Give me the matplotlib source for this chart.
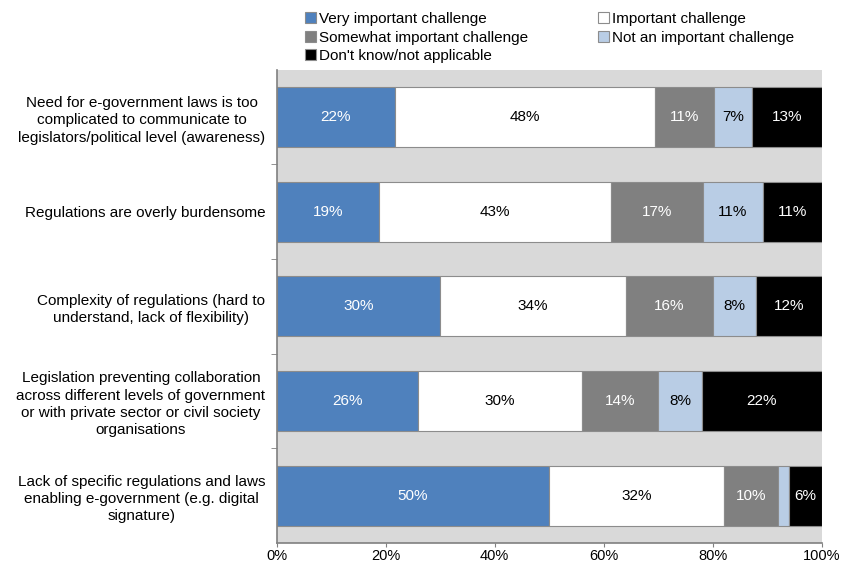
import numpy as np
from matplotlib import pyplot as plt

plt.rcParams['font.family'] = ['Liberation Sans', 'DejaVu Sans']

categories = [
    'Need for e-government laws is too\ncomplicated to communicate to\nlegislators/political level (awareness)',
    'Regulations are overly burdensome',
    'Complexity of regulations (hard to\nunderstand, lack of flexibility)',
    'Legislation preventing collaboration\nacross different levels of government\nor with private sector or civil society\norganisations',
    'Lack of specific regulations and laws\nenabling e-government (e.g. digital\nsignature)',
]
series_names = ['Very important challenge', 'Important challenge',
                'Somewhat important challenge', 'Not an important challenge',
                "Don't know/not applicable"]
very_important = [22, 19, 30, 26, 50]
important = [48, 43, 34, 30, 32]
somewhat = [11, 17, 16, 14, 10]
not_important = [7, 11, 8, 8, 2]
dont_know = [13, 11, 12, 22, 6]
ticks = [0, 20, 40, 60, 80, 100]

colors = ['#4F81BD', '#FFFFFF', '#808080', '#B9CDE5', '#000000']
text_colors = ['white', 'black', 'white', 'black', 'white']

data = np.array([very_important, important, somewhat, not_important, dont_know], dtype=float)
shares = data / data.sum(axis=0) * 100

fig = plt.figure(figsize=(8.43, 5.68), dpi=100)
ax = fig.add_axes([0.328, 0.044, 0.647, 0.833])
ax.set_facecolor('#D9D9D9')

y = np.arange(len(categories))
left = np.zeros(len(categories))
handles = []
for i, name in enumerate(series_names):
    h = ax.barh(y, shares[i], left=left, height=0.635, color=colors[i],
                edgecolor='#8C8C8C', linewidth=0.8, label=name, zorder=2)
    handles.append(h)
    for j in range(len(categories)):
        if data[i, j] >= 3:
            ax.text(left[j] + shares[i, j] / 2, y[j], '%d%%' % data[i, j],
                    ha='center', va='center', fontsize=11, color=text_colors[i], zorder=3)
    left += shares[i]

ax.set_xlim(0, 100)
ax.set_ylim(len(categories) - 0.5, -0.5)
ax.set_xticks(ticks)
ax.set_xticklabels(['%d%%' % t for t in ticks], fontsize=10.5)
ax.set_yticks(y)
ax.set_yticklabels(categories, fontsize=11)
for lab in ax.get_yticklabels():
    lab.set_multialignment('center')
    lab.set_linespacing(1.3)
ax.tick_params(axis='y', length=0, pad=8)
ax.set_yticks(np.arange(0.5, len(categories) - 1, 1), minor=True)
ax.tick_params(axis='y', which='minor', length=4, color='#808080')
ax.tick_params(axis='x', length=3, color='#808080', pad=1.5)
for s in ['top', 'right']:
    ax.spines[s].set_visible(False)
for s in ['left', 'bottom']:
    ax.spines[s].set_color('#808080')
    ax.spines[s].set_linewidth(1.2)

# column-wise order: Very / Somewhat / Don't know, then Important / Not
order = [0, 2, 4, 1, 3]
ax.legend([handles[k] for k in order], [series_names[k] for k in order],
          ncol=2, loc='upper left', bbox_to_anchor=(0.351, 0.995),
          bbox_transform=fig.transFigure, frameon=False,
          fontsize=11, handlelength=0.7, handleheight=0.7, handletextpad=0.2,
          labelspacing=0.3, columnspacing=4.6, borderpad=0.1)

fig.savefig('out.png', dpi=100)
